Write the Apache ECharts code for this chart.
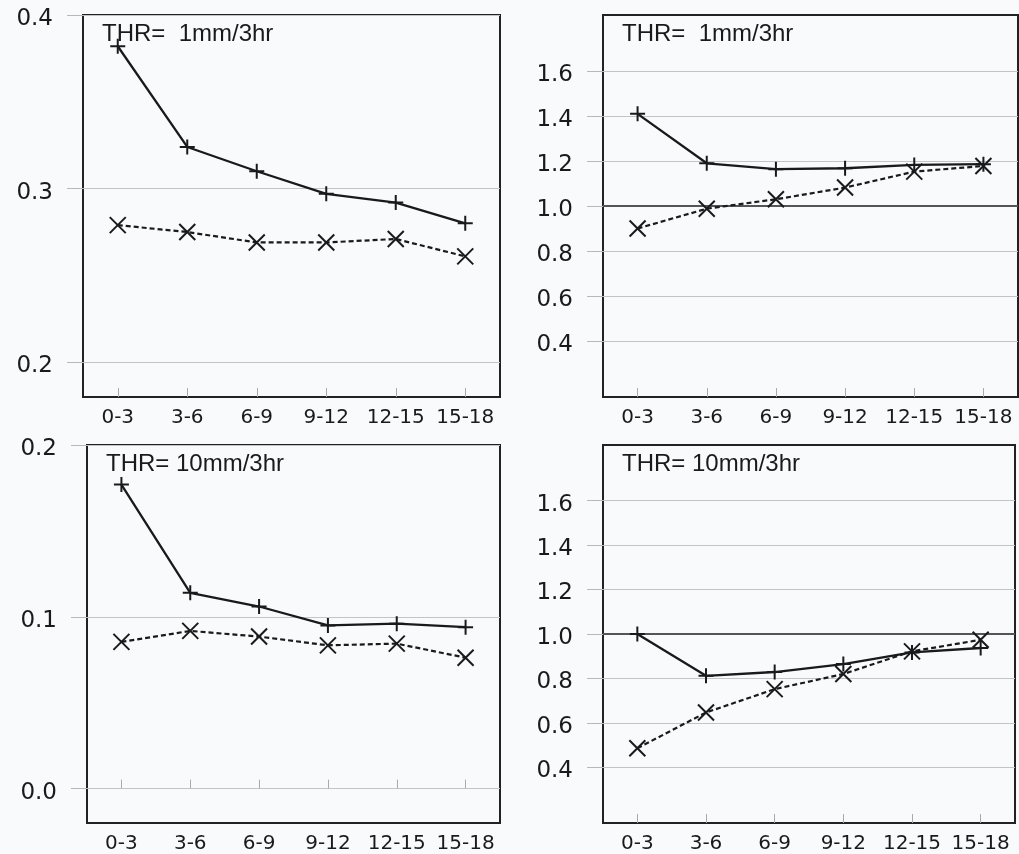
<!DOCTYPE html>
<html>
<head>
<meta charset="utf-8">
<script src="https://cdn.jsdelivr.net/npm/echarts@6/dist/echarts.min.js"></script>
<style>
html,body{margin:0;padding:0;background:#f9fafc;}
#chart{width:1019px;height:854px;}
</style>
</head>
<body>
<div id="chart"></div>
<script>
// ---- data ----
const categories = ['0-3', '3-6', '6-9', '9-12', '12-15', '15-18'];

const topLeftPlus   = [0.382, 0.324, 0.310, 0.297, 0.292, 0.280];
const topLeftCross  = [0.279, 0.275, 0.269, 0.269, 0.271, 0.261];
const topRightPlus  = [1.41, 1.19, 1.164, 1.168, 1.183, 1.186];
const topRightCross = [0.90, 0.988, 1.03, 1.082, 1.153, 1.178];
const botLeftPlus   = [0.177, 0.114, 0.106, 0.095, 0.096, 0.094];
const botLeftCross  = [0.0854, 0.0918, 0.0885, 0.0834, 0.0844, 0.0762];
const botRightPlus  = [1.0, 0.812, 0.829, 0.865, 0.917, 0.937];
const botRightCross = [0.486, 0.647, 0.752, 0.82, 0.922, 0.974];

const ticksTopLeft  = [0.2, 0.3, 0.4];
const ticksBotLeft  = [0.0, 0.1, 0.2];
const ticksRatio    = [0.4, 0.6, 0.8, 1.0, 1.2, 1.4, 1.6];

const titles = ['THR=  1mm/3hr', 'THR=  1mm/3hr', 'THR= 10mm/3hr', 'THR= 10mm/3hr'];

// ---- layout ----
const grids = [
  {left: 83,  top: 15,  width: 417, height: 382},
  {left: 603, top: 15,  width: 415, height: 382},
  {left: 87,  top: 445, width: 413, height: 378},
  {left: 603, top: 445, width: 412, height: 378}
];
const yRanges = [[0.18, 0.40], [0.15, 1.85], [-0.02, 0.20], [0.15, 1.85]];
const yTicks = [ticksTopLeft, ticksRatio, ticksBotLeft, ticksRatio];
const plusData = [topLeftPlus, topRightPlus, botLeftPlus, botRightPlus];
const crossData = [topLeftCross, topRightCross, botLeftCross, botRightCross];

const FONT = 'DejaVu Sans';
const TITLE_FONT = 'Liberation Sans';
const plusPath = 'path://M5,0L5,10M0,5L10,5';
const crossPath = 'path://M0,0L10,10M0,10L10,0';

const option = {
  backgroundColor: '#f9fafc',
  animation: false,
  textStyle: {fontFamily: FONT},
  title: grids.map((g, i) => ({
    text: titles[i],
    left: g.left + 19,
    top: g.top + 7,
    padding: 0,
    textStyle: {fontFamily: TITLE_FONT, fontSize: 24, fontWeight: 'normal', color: '#1a1a1a'}
  })),
  grid: grids.map(g => Object.assign({show: true, borderColor: '#222', borderWidth: 2, backgroundColor: 'transparent'}, g)),
  xAxis: grids.map((g, i) => ({
    type: 'category',
    gridIndex: i,
    data: categories,
    boundaryGap: true,
    axisLine: {show: false},
    axisTick: {show: true, inside: true, length: 9, alignWithLabel: true, lineStyle: {color: '#aaa', width: 1}},
    axisLabel: {fontFamily: FONT, fontSize: 20, color: '#1a1a1a', margin: 11, interval: 0},
    splitLine: {show: false}
  })),
  yAxis: grids.map((g, i) => ({
    type: 'value',
    gridIndex: i,
    min: yRanges[i][0],
    max: yRanges[i][1],
    axisLine: {show: false},
    axisTick: {show: true, length: 16, customValues: yTicks[i], lineStyle: {color: '#b8b8b8', width: 1}},
    axisLabel: {fontFamily: FONT, fontSize: 23, color: '#1a1a1a', margin: 30, customValues: yTicks[i],
      formatter: v => '{v|' + Number(v).toFixed(1) + '}',
      rich: {v: {fontFamily: FONT, fontSize: 23, color: '#1a1a1a', padding: [8, 0, 0, 0]}}},
    splitLine: {show: true, lineStyle: {color: '#c4c4c4', width: 1}}
  })),
  series: []
};

for (let i = 0; i < 4; i++) {
  const plus = {
    type: 'line',
    xAxisIndex: i, yAxisIndex: i,
    data: plusData[i],
    symbol: plusPath,
    symbolSize: 15,
    showSymbol: true,
    lineStyle: {color: '#1a1a1a', width: 2.3, type: 'solid'},
    itemStyle: {color: 'none', borderColor: '#1a1a1a', borderWidth: 2},
    z: 3
  };
  if (i === 1 || i === 3) {
    plus.markLine = {
      silent: true,
      symbol: 'none',
      label: {show: false},
      lineStyle: {color: '#555', width: 1.8, type: 'solid'},
      data: [{yAxis: 1.0}],
      z: 1
    };
  }
  option.series.push(plus);
  option.series.push({
    type: 'line',
    xAxisIndex: i, yAxisIndex: i,
    data: crossData[i],
    symbol: crossPath,
    symbolSize: 16,
    showSymbol: true,
    lineStyle: {color: '#1a1a1a', width: 2.2, type: [5, 3]},
    itemStyle: {color: 'none', borderColor: '#1a1a1a', borderWidth: 2},
    z: 3
  });
}

const chart = echarts.init(document.getElementById('chart'), null, {renderer: 'canvas'});
chart.setOption(option);
</script>
</body>
</html>
